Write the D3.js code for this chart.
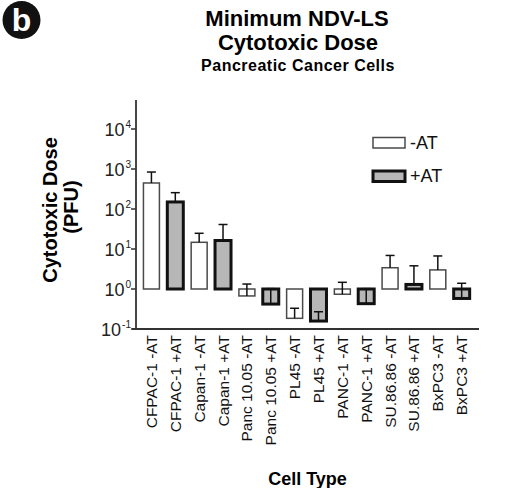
<!DOCTYPE html>
<html><head><meta charset="utf-8">
<script src="https://cdn.jsdelivr.net/npm/d3@7"></script>
<style>body{margin:0;background:#fff}svg{display:block;font-family:"Liberation Sans",Arial,sans-serif}</style>
</head><body><svg id="c" width="512" height="488"></svg>
<script>
const categories = ["CFPAC-1 -AT","CFPAC-1 +AT","Capan-1 -AT","Capan-1 +AT","Panc 10.05 -AT","Panc 10.05 +AT","PL45 -AT","PL45 +AT","PANC-1 -AT","PANC-1 +AT","SU.86.86 -AT","SU.86.86 +AT","BxPC3 -AT","BxPC3 +AT"];
const treatment = ["-AT","+AT","-AT","+AT","-AT","+AT","-AT","+AT","-AT","+AT","-AT","+AT","-AT","+AT"];
const values = [447, 150, 14.7, 16.3, 0.67, 0.42, 0.185, 0.158, 0.74, 0.43, 3.4, 1.3, 3.0, 0.58];
const errors = [393, 106, 10, 24.7, 0.66, 0.6, 0.145, 0.112, 0.73, 0.59, 3.5, 2.5, 3.7, 0.81];
const yTicks = [0.1, 1, 10, 100, 1000, 10000];
const yTickExp = ["-1","0","1","2","3","4"];
const legendItems = ["-AT","+AT"];

const svg = d3.select("#c");
const y = d3.scaleLog().domain([0.1, Math.pow(10,4.725)]).range([329, 100]);
const x = d3.scaleBand().domain(categories).range([139.5, 473.6]).paddingInner(0.33).paddingOuter(0.165);
const base = 1;

const style = t => t === "-AT" ? {fill:"#ffffff", stroke:"#4a4a4a", sw:1.5} : {fill:"#b7b7b7", stroke:"#111", sw:3};

// b label
svg.append("circle").attr("cx",21.5).attr("cy",20).attr("r",19).attr("fill","#111");
svg.append("text").attr("x",21.5).attr("y",31).attr("text-anchor","middle").attr("fill","#fff")
  .attr("font-size",32).attr("font-weight","bold").text("b");

// titles
svg.append("text").attr("x",297).attr("y",25.5).attr("text-anchor","middle").attr("font-size",22).attr("font-weight","bold").text("Minimum NDV-LS");
svg.append("text").attr("x",298).attr("y",50).attr("text-anchor","middle").attr("font-size",22).attr("font-weight","bold").text("Cytotoxic Dose");
svg.append("text").attr("x",298).attr("y",70.5).attr("text-anchor","middle").attr("font-size",16).attr("font-weight","bold").attr("letter-spacing",0.5).text("Pancreatic Cancer Cells");

// y axis title
svg.append("text").attr("transform","translate(57,210) rotate(-90)").attr("text-anchor","middle").attr("font-size",20).attr("font-weight","bold").text("Cytotoxic Dose");
svg.append("text").attr("transform","translate(78,207) rotate(-90)").attr("text-anchor","middle").attr("font-size",20).attr("font-weight","bold").text("(PFU)");

// x axis title
svg.append("text").attr("x",307.5).attr("y",485).attr("text-anchor","middle").attr("font-size",18).attr("font-weight","bold").text("Cell Type");

// bars
const g = svg.append("g");
categories.forEach((c,i) => {
  const s = style(treatment[i]);
  const v = values[i];
  const y0 = y(Math.max(v, base)), y1 = y(Math.min(v, base));
  g.append("rect").attr("x", x(c)).attr("y", y0).attr("width", x.bandwidth()).attr("height", y1 - y0)
    .attr("fill", s.fill).attr("stroke", s.stroke).attr("stroke-width", s.sw);
});
// error bars
categories.forEach((c,i) => {
  const cx = x(c) + x.bandwidth()/2;
  const v = values[i], top = values[i] + errors[i];
  g.append("line").attr("x1",cx).attr("x2",cx).attr("y1",y(v)).attr("y2",y(top)).attr("stroke","#111").attr("stroke-width",1.5);
  g.append("line").attr("x1",cx-4.5).attr("x2",cx+4.5).attr("y1",y(top)).attr("y2",y(top)).attr("stroke","#111").attr("stroke-width",1.5);
});

// y axis
const ya = svg.append("g");
ya.append("line").attr("x1",136).attr("x2",136).attr("y1",y.range()[1]).attr("y2",y.range()[0]+1).attr("stroke","#333").attr("stroke-width",1.8);
yTicks.forEach((t,i) => {
  ya.append("line").attr("x1",131).attr("x2",136).attr("y1",y(t)).attr("y2",y(t)).attr("stroke","#333").attr("stroke-width",1.5);
  const tx = ya.append("text").attr("x",131).attr("y",y(t)+6.5).attr("text-anchor","end").attr("font-size",18).attr("fill","#222");
  tx.append("tspan").text("10");
  tx.append("tspan").attr("font-size",10).attr("dy",-8).attr("dx",1).text(yTickExp[i]);
});
// x axis
svg.append("line").attr("x1",132).attr("x2",479).attr("y1",y(0.1)).attr("y2",y(0.1)).attr("stroke","#333").attr("stroke-width",1.8);
categories.forEach(c => {
  const cx = x(c) + x.bandwidth()/2;
  svg.append("text").attr("transform",`translate(${cx+5.5},335) rotate(-90)`).attr("text-anchor","end")
    .attr("font-size",15.5).attr("fill","#111").text(c);
});

// legend
legendItems.forEach((t,i) => {
  const s = style(t);
  const ly = 137.5 + i*33.5;
  svg.append("rect").attr("x",373).attr("y",ly).attr("width",32).attr("height",10.5)
    .attr("fill",s.fill).attr("stroke",s.stroke).attr("stroke-width",s.sw);
  svg.append("text").attr("x",410).attr("y",ly+11).attr("font-size",18).attr("fill","#111").text(t);
});
</script></body></html>
